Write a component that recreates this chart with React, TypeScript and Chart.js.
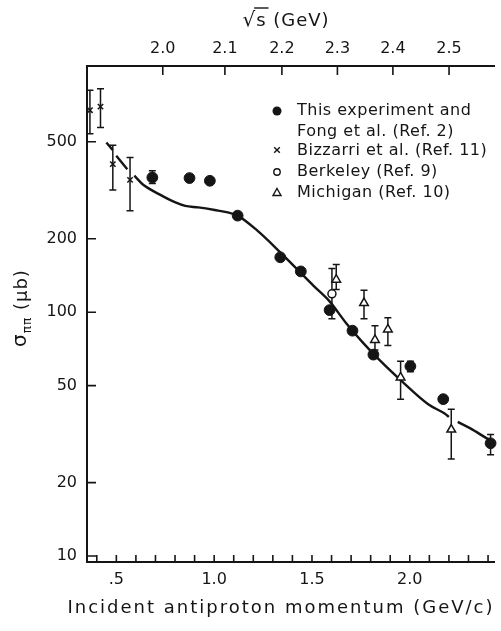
import { useEffect, useRef } from "react";
import { Chart, registerables } from "chart.js";

Chart.register(...registerables);

// Incident antiproton momentum p (GeV/c) and the annihilation cross section σππ (μb)

// This experiment and Fong et al. (Ref. 2)
const THIS_EXP_P = [0.684, 0.874, 0.978, 1.12, 1.338, 1.443, 1.59, 1.707, 1.814, 2.003, 2.171, 2.413];
const THIS_EXP_SIGMA = [357, 355, 346, 249, 168, 147, 102, 84, 67, 60, 44, 29];
const THIS_EXP_LOW = [337, null, null, null, null, null, null, null, null, 57, null, 26];
const THIS_EXP_HIGH = [380, null, null, null, null, null, null, null, null, 63, null, 31.5];

// Bizzarri et al. (Ref. 11)
const BIZZARRI_P = [0.365, 0.419, 0.482, 0.57];
const BIZZARRI_SIGMA = [674, 697, 405, 349];
const BIZZARRI_LOW = [540, 572, 317, 261];
const BIZZARRI_HIGH = [813, 826, 484, 431];

// Berkeley (Ref. 9)
const BERKELEY_P = [1.602];
const BERKELEY_SIGMA = [119];
const BERKELEY_LOW = [94];
const BERKELEY_HIGH = [151];

// Michigan (Ref. 10)
const MICHIGAN_P = [1.624, 1.766, 1.822, 1.888, 1.953, 2.212];
const MICHIGAN_SIGMA = [136, 109, 77, 85, 54, 33];
const MICHIGAN_LOW = [124, 94, 70, 73, 44, 25];
const MICHIGAN_HIGH = [157, 123, 88, 95, 63, 40];

// Smooth fit curve (null marks a break in the drawn line)
const CURVE_P = [0.449, 0.481, 0.49, 0.4995, 0.556, 0.575, 0.592, 0.634, 0.718, 0.802, 0.852, 0.919, 1.003, 1.07, 1.12, 1.221, 1.338, 1.4225, 1.507, 1.59, 1.674, 1.758, 1.842, 1.96, 2.094, 2.178, 2.2, 2.222, 2.245, 2.312, 2.396, 2.433];
const CURVE_SIGMA = [497, 463, null, 438, 386, null, 363, 335, 305, 282, 273, 269, 262.5, 256.6, 249, 216, 176, 150.5, 128.6, 110.8, 90.3, 75.4, 64, 52, 41.9, 38.4, 37.2, null, 35.5, 33.3, 30.3, 29.2];

// Axis ticks
const P_TICKS = [0.4, 0.5, 0.6, 0.7, 0.8, 0.9, 1.0, 1.1, 1.2, 1.3, 1.4, 1.5, 1.6, 1.7, 1.8, 1.9, 2.0, 2.1, 2.2, 2.3, 2.4];
const SQRT_S_TICKS = [2.0, 2.1, 2.2, 2.3, 2.4, 2.5];
const SIGMA_TICKS = [10, 20, 50, 100, 200, 500];

const P_MIN = 0.35;
const P_MAX = 2.433;
const SIGMA_MIN = 9.45;
const SIGMA_MAX = 1023;
const PROTON_MASS = 0.938272;

const INK = "#151515";
const FONT = "'DejaVu Sans', 'Liberation Sans', sans-serif";

// lab momentum of the antiproton for a given centre-of-mass energy √s
function momentumFromSqrtS(w: number): number {
  const m = PROTON_MASS;
  const e = (w * w - 2 * m * m) / (2 * m);
  return Math.sqrt(e * e - m * m);
}

function points(xs: number[], ys: (number | null)[]) {
  return xs.map((x, i) => ({ x, y: ys[i] }));
}

const decorPlugin = {
  id: "decor",
  beforeDatasetsDraw(chart: any) {
    const ctx = chart.ctx as CanvasRenderingContext2D;
    const xs = chart.scales.x;
    const ys = chart.scales.y;
    ctx.save();
    ctx.strokeStyle = INK;
    ctx.lineWidth = 1.5;
    chart.data.datasets.forEach((ds: any) => {
      if (!ds.errLow) return;
      ds.data.forEach((pt: any, j: number) => {
        const lo = ds.errLow[j];
        const hi = ds.errHigh[j];
        if (lo == null || hi == null) return;
        const px = xs.getPixelForValue(pt.x);
        const pl = ys.getPixelForValue(lo);
        const ph = ys.getPixelForValue(hi);
        ctx.beginPath();
        ctx.moveTo(px, pl);
        ctx.lineTo(px, ph);
        ctx.moveTo(px - 3.5, pl);
        ctx.lineTo(px + 3.5, pl);
        ctx.moveTo(px - 3.5, ph);
        ctx.lineTo(px + 3.5, ph);
        ctx.stroke();
      });
    });
    ctx.restore();
  },
  afterDraw(chart: any) {
    const ctx = chart.ctx as CanvasRenderingContext2D;
    const { left, top, bottom } = chart.chartArea;
    const xs = chart.scales.x;
    const x2 = chart.scales.x2;
    const ys = chart.scales.y;

    // inward tick marks
    ctx.save();
    ctx.strokeStyle = INK;
    ctx.lineWidth = 1.6;
    ctx.beginPath();
    xs.ticks.forEach((t: any) => {
      const px = xs.getPixelForValue(t.value);
      ctx.moveTo(px, bottom);
      ctx.lineTo(px, bottom - 7);
    });
    x2.ticks.forEach((t: any) => {
      const px = x2.getPixelForValue(t.value);
      ctx.moveTo(px, top);
      ctx.lineTo(px, top + 9);
    });
    ys.ticks.forEach((t: any) => {
      const py = ys.getPixelForValue(t.value);
      ctx.moveTo(left, py);
      ctx.lineTo(left + 9, py);
    });
    ctx.stroke();
    ctx.restore();

    ctx.save();
    ctx.fillStyle = INK;
    ctx.strokeStyle = INK;

    // bottom axis title
    (ctx as any).letterSpacing = "2px";
    ctx.font = `18px ${FONT}`;
    ctx.textAlign = "center";
    ctx.textBaseline = "alphabetic";
    ctx.fillText("Incident antiproton momentum (GeV/c)", 281, 613);

    // top axis title: √s (GeV)
    (ctx as any).letterSpacing = "1px";
    ctx.textAlign = "left";
    ctx.font = `20px ${FONT}`;
    const wRoot = ctx.measureText("√").width;
    ctx.font = `18px ${FONT}`;
    const wS = ctx.measureText("s").width;
    const wRest = ctx.measureText(" (GeV)").width;
    const startX = 286 - (wRoot + wS + wRest) / 2;
    const base = 26;
    ctx.font = `20px ${FONT}`;
    ctx.fillText("√", startX, base);
    ctx.font = `18px ${FONT}`;
    ctx.fillText("s", startX + wRoot, base);
    ctx.fillText(" (GeV)", startX + wRoot + wS, base);
    ctx.lineWidth = 1.4;
    ctx.beginPath();
    ctx.moveTo(startX + wRoot - 2, base - 18);
    ctx.lineTo(startX + wRoot + wS + 2, base - 18);
    ctx.stroke();

    // left axis title: σππ (μb)
    ctx.translate(21, 308);
    ctx.rotate(-Math.PI / 2);
    ctx.font = `20px ${FONT}`;
    const wSig = ctx.measureText("σ").width;
    ctx.font = `12px ${FONT}`;
    const wSub = ctx.measureText("ππ").width;
    ctx.font = `18px ${FONT}`;
    const wUnit = ctx.measureText(" (μb)").width;
    let tx = -(wSig + wSub + wUnit) / 2;
    ctx.font = `20px ${FONT}`;
    ctx.fillText("σ", tx, 5);
    tx += wSig;
    ctx.font = `12px ${FONT}`;
    ctx.fillText("ππ", tx, 10);
    tx += wSub;
    ctx.font = `18px ${FONT}`;
    ctx.fillText(" (μb)", tx, 6);
    ctx.restore();

    // legend
    ctx.save();
    ctx.fillStyle = INK;
    ctx.strokeStyle = INK;
    ctx.font = `16px ${FONT}`;
    (ctx as any).letterSpacing = "0.5px";
    ctx.textAlign = "left";
    ctx.textBaseline = "middle";
    const mx = 277;
    const tx0 = 297;
    ctx.beginPath();
    ctx.arc(mx, 111, 4.5, 0, Math.PI * 2);
    ctx.fill();
    ctx.fillText("This experiment and", tx0, 111);
    ctx.fillText("Fong et al. (Ref. 2)", tx0, 132);

    ctx.lineWidth = 1.4;
    ctx.beginPath();
    ctx.moveTo(mx - 2.8, 150 - 2.8);
    ctx.lineTo(mx + 2.8, 150 + 2.8);
    ctx.moveTo(mx + 2.8, 150 - 2.8);
    ctx.lineTo(mx - 2.8, 150 + 2.8);
    ctx.stroke();
    ctx.fillText("Bizzarri et al. (Ref. 11)", tx0, 151);

    ctx.beginPath();
    ctx.arc(mx, 172, 3.2, 0, Math.PI * 2);
    ctx.stroke();
    ctx.fillText("Berkeley (Ref. 9)", tx0, 172);

    ctx.beginPath();
    ctx.moveTo(mx, 188.5);
    ctx.lineTo(mx + 4, 195.5);
    ctx.lineTo(mx - 4, 195.5);
    ctx.closePath();
    ctx.stroke();
    ctx.fillText("Michigan (Ref. 10)", tx0, 193);
    ctx.restore();
  },
};

export default function App() {
  const canvasRef = useRef<HTMLCanvasElement | null>(null);

  useEffect(() => {
    const canvas = canvasRef.current;
    if (!canvas) return;
    const tickFont = { family: FONT, size: 16 };

    const chart = new Chart(canvas, {
      type: "scatter",
      data: {
        datasets: [
          {
            label: "This experiment and Fong et al. (Ref. 2)",
            data: points(THIS_EXP_P, THIS_EXP_SIGMA),
            errLow: THIS_EXP_LOW,
            errHigh: THIS_EXP_HIGH,
            pointStyle: "circle",
            pointRadius: 5.4,
            backgroundColor: INK,
            borderColor: INK,
            borderWidth: 1,
            order: 1,
            clip: false,
          } as any,
          {
            label: "Bizzarri et al. (Ref. 11)",
            data: points(BIZZARRI_P, BIZZARRI_SIGMA),
            errLow: BIZZARRI_LOW,
            errHigh: BIZZARRI_HIGH,
            pointStyle: "crossRot",
            pointRadius: 3.8,
            borderColor: INK,
            borderWidth: 1.5,
            order: 2,
            clip: false,
          } as any,
          {
            label: "Berkeley (Ref. 9)",
            data: points(BERKELEY_P, BERKELEY_SIGMA),
            errLow: BERKELEY_LOW,
            errHigh: BERKELEY_HIGH,
            pointStyle: "circle",
            pointRadius: 4,
            backgroundColor: "#ffffff",
            borderColor: INK,
            borderWidth: 1.5,
            order: 0,
            clip: false,
          } as any,
          {
            label: "Michigan (Ref. 10)",
            data: points(MICHIGAN_P, MICHIGAN_SIGMA),
            errLow: MICHIGAN_LOW,
            errHigh: MICHIGAN_HIGH,
            pointStyle: "triangle",
            pointRadius: 5,
            backgroundColor: "#ffffff",
            borderColor: INK,
            borderWidth: 1.5,
            order: 0,
            clip: false,
          } as any,
          {
            type: "line",
            label: "fit",
            data: points(CURVE_P, CURVE_SIGMA),
            borderColor: INK,
            borderWidth: 2.4,
            pointRadius: 0,
            cubicInterpolationMode: "monotone",
            spanGaps: false,
            fill: false,
            order: 10,
          } as any,
        ],
      },
      options: {
        animation: false,
        responsive: false,
        devicePixelRatio: 1,
        layout: { padding: 0 },
        plugins: {
          legend: { display: false },
          tooltip: { enabled: false },
        },
        scales: {
          x: {
            type: "linear",
            position: "bottom",
            min: P_MIN,
            max: P_MAX,
            afterBuildTicks: (s: any) => {
              s.ticks = P_TICKS.map((v) => ({ value: v }));
            },
            afterFit: (s: any) => {
              s.height = 69;
            },
            grid: { display: false, drawTicks: false },
            border: { display: true, width: 2, color: INK },
            ticks: {
              autoSkip: false,
              maxRotation: 0,
              padding: 8,
              color: INK,
              font: tickFont,
              callback: (v: any) => {
                const r = Math.round(Number(v) * 10);
                if (r % 5 !== 0) return "";
                return r === 5 ? ".5" : (r / 10).toFixed(1);
              },
            },
          },
          x2: {
            type: "linear",
            position: "top",
            min: P_MIN,
            max: P_MAX,
            afterBuildTicks: (s: any) => {
              s.ticks = SQRT_S_TICKS.map((w) => ({ value: momentumFromSqrtS(w) }));
            },
            afterFit: (s: any) => {
              s.height = 66;
            },
            grid: { display: false, drawTicks: false },
            border: { display: true, width: 2, color: INK },
            ticks: {
              autoSkip: false,
              maxRotation: 0,
              padding: 8,
              color: INK,
              font: tickFont,
              callback: (_v: any, i: number) => SQRT_S_TICKS[i].toFixed(1),
            },
          },
          y: {
            type: "logarithmic",
            position: "left",
            min: SIGMA_MIN,
            max: SIGMA_MAX,
            afterBuildTicks: (s: any) => {
              s.ticks = SIGMA_TICKS.map((v) => ({ value: v }));
            },
            afterFit: (s: any) => {
              s.width = 87;
            },
            grid: { display: false, drawTicks: false },
            border: { display: true, width: 2, color: INK },
            ticks: {
              autoSkip: false,
              padding: 10,
              color: INK,
              font: tickFont,
              callback: (v: any) => String(v),
            },
          },
        },
      },
      plugins: [decorPlugin],
    } as any);

    return () => chart.destroy();
  }, []);

  return (
    <div style={{ position: "absolute", left: 0, top: 0, width: 501, height: 631, background: "#ffffff", overflow: "hidden" }}>
      <canvas ref={canvasRef} width={501} height={631} style={{ display: "block" }} />
    </div>
  );
}
